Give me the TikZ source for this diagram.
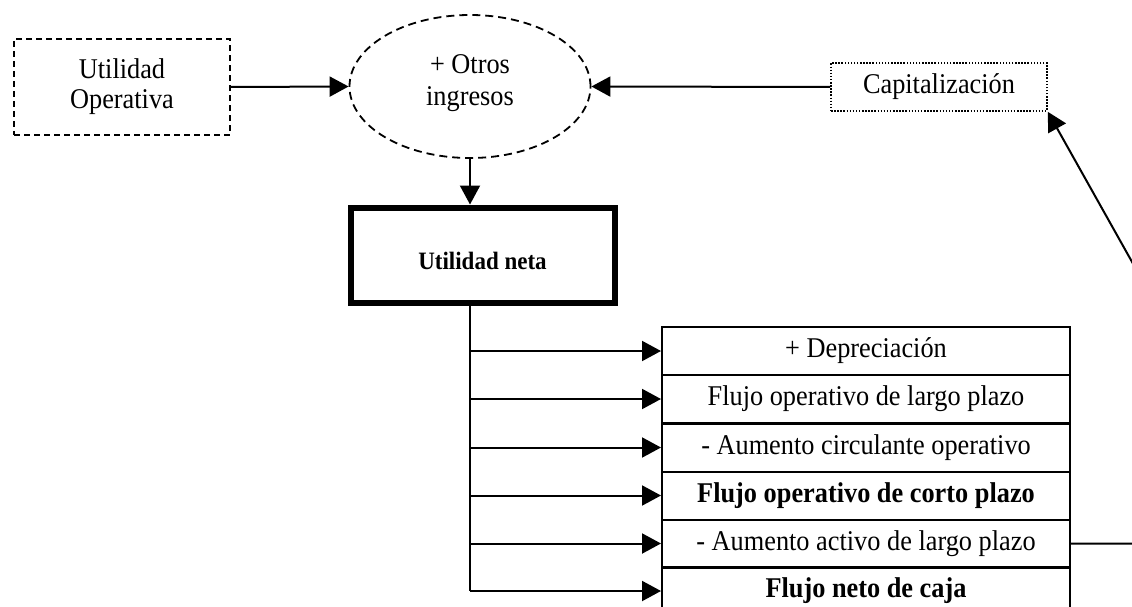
\documentclass[tikz,border=0pt]{standalone}
\usepackage{fontspec}
\setmainfont[FakeStretch=0.92]{Liberation Serif}
\usetikzlibrary{arrows.meta,shapes.geometric}
\newcommand\shiftedlines[3]{\raisebox{#1}[\height][\depth]{\fontsize{28.6}{#2}\selectfont\begin{tabular}[t]{@{}c@{}}#3\end{tabular}}}
\tikzset{
  every node/.style={font=\fontsize{28.6}{31}\selectfont, inner sep=0pt, align=center},
  arr/.style={line width=2pt, -{Triangle[length=19pt,width=20pt]}},
  plain/.style={line width=2pt},
  dashbox/.style={draw, line width=2pt, dash pattern=on 6pt off 4pt, minimum width=216pt, minimum height=96pt},
  dotbox/.style={draw, line width=1.6pt, dash pattern=on 1.5pt off 1.6pt, minimum width=216pt, minimum height=48pt},
  ellnode/.style={draw, ellipse, line width=1.8pt, dash pattern=on 8pt off 5pt, minimum width=241pt, minimum height=143pt},
  netbox/.style={draw, line width=6pt, minimum width=264pt, minimum height=95.5pt, font=\fontsize{25}{28}\selectfont\bfseries},
  rowbox/.style={draw, line width=2pt, minimum width=408pt, minimum height=48pt},
}
\begin{document}
\begin{tikzpicture}[x=1pt,y=-1pt]
\useasboundingbox (0,0) rectangle (1132,607);
\clip (0,0) rectangle (1132,607);
\fill[white] (0,0) rectangle (1132,607);

\node[dashbox] (uo) at (122,87) {\shiftedlines{-1pt}{30pt}{Utilidad\\Operativa}};
\node[ellnode] (ell) at (470,86.5) {\shiftedlines{3.5pt}{31.5pt}{+ Otros\\ingresos}};
\node[dotbox] (cap) at (939,87) {Capitalización};
\node[netbox] (un) at (482.5,255.25) {\raisebox{-5.5pt}[\height][\depth]{Utilidad neta}};

\node[rowbox] (r1) at (866,351) {+ Depreciación};
\node[rowbox] (r2) at (866,399) {Flujo operativo de largo plazo};
\node[rowbox] (r3) at (866,447.5) {- Aumento circulante operativo};
\node[rowbox] (r4) at (866,495.5) {\textbf{Flujo operativo de corto plazo}};
\node[rowbox] (r5) at (866,543.5) {- Aumento activo de largo plazo};
\node[rowbox] (r6) at (866,591) {\textbf{Flujo neto de caja}};

\coordinate (bend) at (1290,543.5);

\draw[arr] (uo.east) -- (ell.west);
\draw[arr] (cap.west) -- (ell.east);
\draw[arr] (ell.south) -- (ell.south |- un.north);
\draw[plain] (ell.south |- un.south) -- (ell.south |- r6.west);
\foreach \r in {r1,r2,r3,r4,r5,r6}{
  \draw[arr] (ell.south |- \r.west) -- (\r.west);
}
\draw[arr] (r5.east) -- (bend) -- (cap.south east);
\end{tikzpicture}
\end{document}
